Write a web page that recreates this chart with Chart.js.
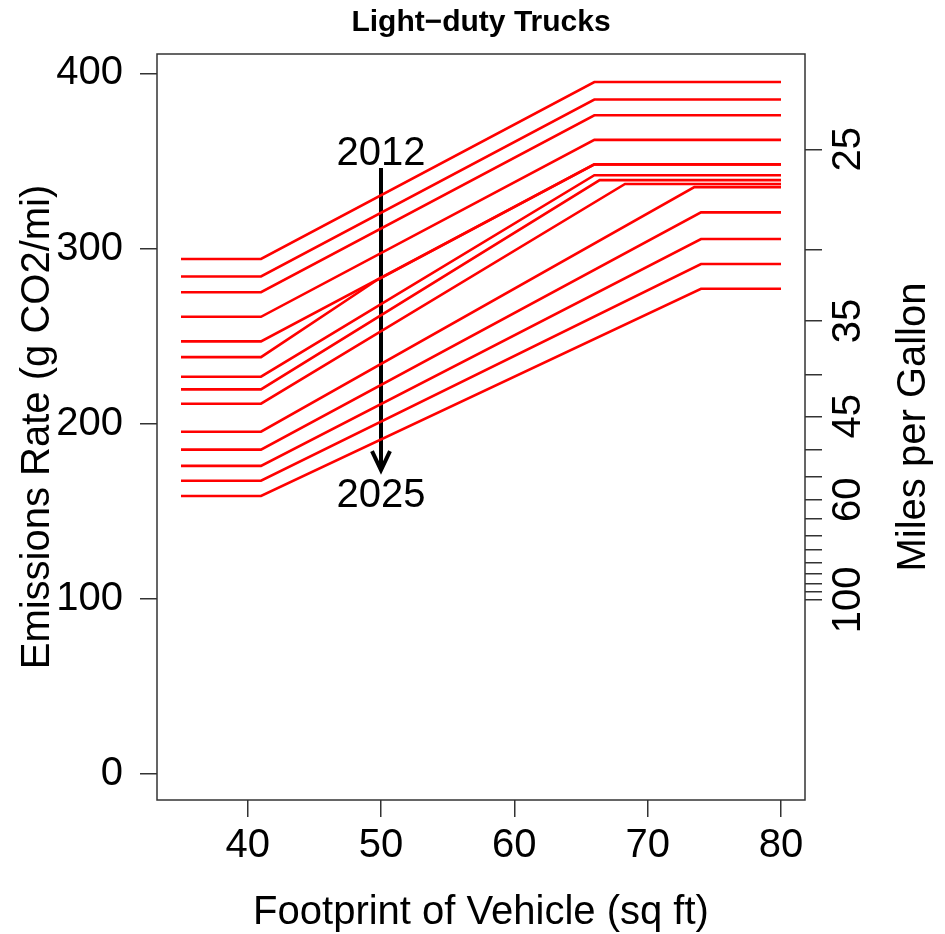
<!DOCTYPE html>
<html>
<head>
<meta charset="utf-8">
<title>Light-duty Trucks</title>
<script src="https://cdn.jsdelivr.net/npm/chart.js@4.4.1/dist/chart.umd.min.js"></script>
<style>
  html, body { margin: 0; padding: 0; background: #fff; }
  #wrap { width: 945px; height: 934px; }
</style>
</head>
<body>
<div id="wrap"><canvas id="chartCanvas" width="945" height="934"></canvas></div>
<script>
// CO2 targets (g/mi) per model year
const modelYears = [2012, 2013, 2014, 2015, 2016, 2017, 2018, 2019, 2020, 2021, 2022, 2023, 2024, 2025];
const floorRate = [294, 284, 275, 261, 247, 238, 226.8, 219.6, 211.4, 195.4, 185.2, 175.9, 167.4, 158.7];
const capRate = [395, 385, 376, 362, 348, 348, 341.8, 339, 336.8, 335, 320.6, 305.4, 291.1, 277];
const capFootprint = [66, 66, 66, 66, 66, 66, 66, 66.4, 68.3, 73.5, 74, 74, 74, 74];
// 2017 runs into the 2016 curve before its upper cut point
const mergeFootprint = [null, null, null, null, null, 49.7, null, null, null, null, null, null, null, null];
const mergeRate = [null, null, null, null, null, 282, null, null, null, null, null, null, null, null];
const floorFootprint = 41;
const footprintRange = [35, 80];

const xTicks = [40, 50, 60, 70, 80];
const yTicks = [0, 100, 200, 300, 400];
const mpgTicks = [25, 30, 35, 40, 45, 50, 55, 60, 65, 70, 75, 80, 85, 90, 95, 100];
const mpgLabelled = [25, 35, 45, 60, 100];
const gramsPerGallon = 8887;

const arrowFootprint = 50;
const arrowRates = [346, 173.5];
const yearLabels = ["2012", "2025"];
const yearLabelRates = [354, 158.5];

const FONT = '"Liberation Sans", Arial, sans-serif';
Chart.defaults.font.family = FONT;
Chart.defaults.color = "#000";

const datasets = modelYears.map((yr, i) => {
  const pts = [
    { x: footprintRange[0], y: floorRate[i] },
    { x: floorFootprint, y: floorRate[i] },
  ];
  if (mergeFootprint[i] !== null) pts.push({ x: mergeFootprint[i], y: mergeRate[i] });
  pts.push({ x: capFootprint[i], y: capRate[i] }, { x: footprintRange[1], y: capRate[i] });
  return {
    label: String(yr),
    data: pts,
    borderColor: "#ff0000",
    borderWidth: 2.6,
    pointRadius: 0,
    tension: 0,
  };
});
datasets.push({
  label: "arrow",
  data: [
    { x: arrowFootprint, y: arrowRates[0] },
    { x: arrowFootprint, y: arrowRates[1] },
  ],
  borderColor: "#000",
  borderWidth: 4,
  pointRadius: 0,
});

const tickGrid = { drawOnChartArea: false, tickLength: 17, color: "#333", lineWidth: 1.5 };

const annotate = {
  id: "annotate",
  afterDatasetsDraw(chart) {
    const { ctx, chartArea, scales } = chart;
    const x = scales.x, y = scales.y;

    // arrow head at the lower end of the arrow
    const meta = chart.getDatasetMeta(datasets.length - 1);
    const tip = meta.data[1];
    ctx.save();
    ctx.strokeStyle = "#000";
    ctx.lineWidth = 4;
    ctx.lineJoin = "miter";
    ctx.beginPath();
    ctx.moveTo(tip.x - 9, tip.y - 19);
    ctx.lineTo(tip.x, tip.y);
    ctx.lineTo(tip.x + 9, tip.y - 19);
    ctx.stroke();

    ctx.fillStyle = "#000";
    ctx.font = "40px " + FONT;
    ctx.textAlign = "center";
    ctx.textBaseline = "middle";
    yearLabels.forEach((t, i) => {
      ctx.fillText(t, x.getPixelForValue(arrowFootprint), y.getPixelForValue(yearLabelRates[i]));
    });

    // plot box
    ctx.strokeStyle = "#333";
    ctx.lineWidth = 1.5;
    ctx.strokeRect(chartArea.left, chartArea.top, chartArea.right - chartArea.left, chartArea.bottom - chartArea.top);

    // right axis title, reading bottom to top
    ctx.translate(chartArea.right + 109, (chartArea.top + chartArea.bottom) / 2);
    ctx.rotate(-Math.PI / 2);
    ctx.fillText("Miles per Gallon", 0, 0);
    ctx.restore();
  },
};

new Chart(document.getElementById("chartCanvas"), {
  type: "line",
  data: { datasets },
  options: {
    responsive: false,
    animation: false,
    devicePixelRatio: 1,
    layout: { padding: 0 },
    plugins: {
      legend: { display: false },
      tooltip: { enabled: false },
      title: {
        display: true,
        text: "Light\u2212duty Trucks",
        fullSize: false,
        color: "#000",
        font: { size: 30, weight: "bold", lineHeight: 1.2 },
        padding: { top: 5, bottom: 13 },
      },
    },
    scales: {
      x: {
        type: "linear",
        min: 33.2,
        max: 81.8,
        afterBuildTicks: (s) => { s.ticks = xTicks.map((v) => ({ value: v })); },
        afterFit: (s) => { s.height = 134; },
        grid: tickGrid,
        border: { display: false },
        ticks: { font: { size: 40 }, padding: 5, maxRotation: 0, color: "#000" },
        title: {
          display: true,
          text: "Footprint of Vehicle (sq ft)",
          font: { size: 40 },
          color: "#000",
          padding: { top: 0, bottom: -3 },
        },
      },
      y: {
        type: "linear",
        position: "left",
        min: -14.8,
        max: 411,
        afterBuildTicks: (s) => { s.ticks = yTicks.map((v) => ({ value: v })); },
        afterFit: (s) => { s.width = 157; },
        grid: tickGrid,
        border: { display: false },
        ticks: { font: { size: 40 }, padding: 17, color: "#000" },
        title: {
          display: true,
          text: "Emissions Rate (g CO2/mi)",
          font: { size: 40 },
          color: "#000",
          padding: { top: 14, bottom: 0 },
        },
      },
      y2: {
        type: "linear",
        position: "right",
        min: -29.5,
        max: 411.9,
        afterBuildTicks: (s) => { s.ticks = mpgTicks.map((m) => ({ value: gramsPerGallon / m })); },
        afterFit: (s) => { s.width = 140; },
        grid: tickGrid,
        border: { display: false },
        ticks: {
          font: { size: 40 },
          color: "#000",
          autoSkip: false,
          minRotation: 90,
          maxRotation: 90,
          crossAlign: "center",
          padding: -6,
          callback: (v, i) => (mpgLabelled.includes(mpgTicks[i]) ? String(mpgTicks[i]) : ""),
        },
      },
    },
  },
  plugins: [annotate],
});
</script>
</body>
</html>
